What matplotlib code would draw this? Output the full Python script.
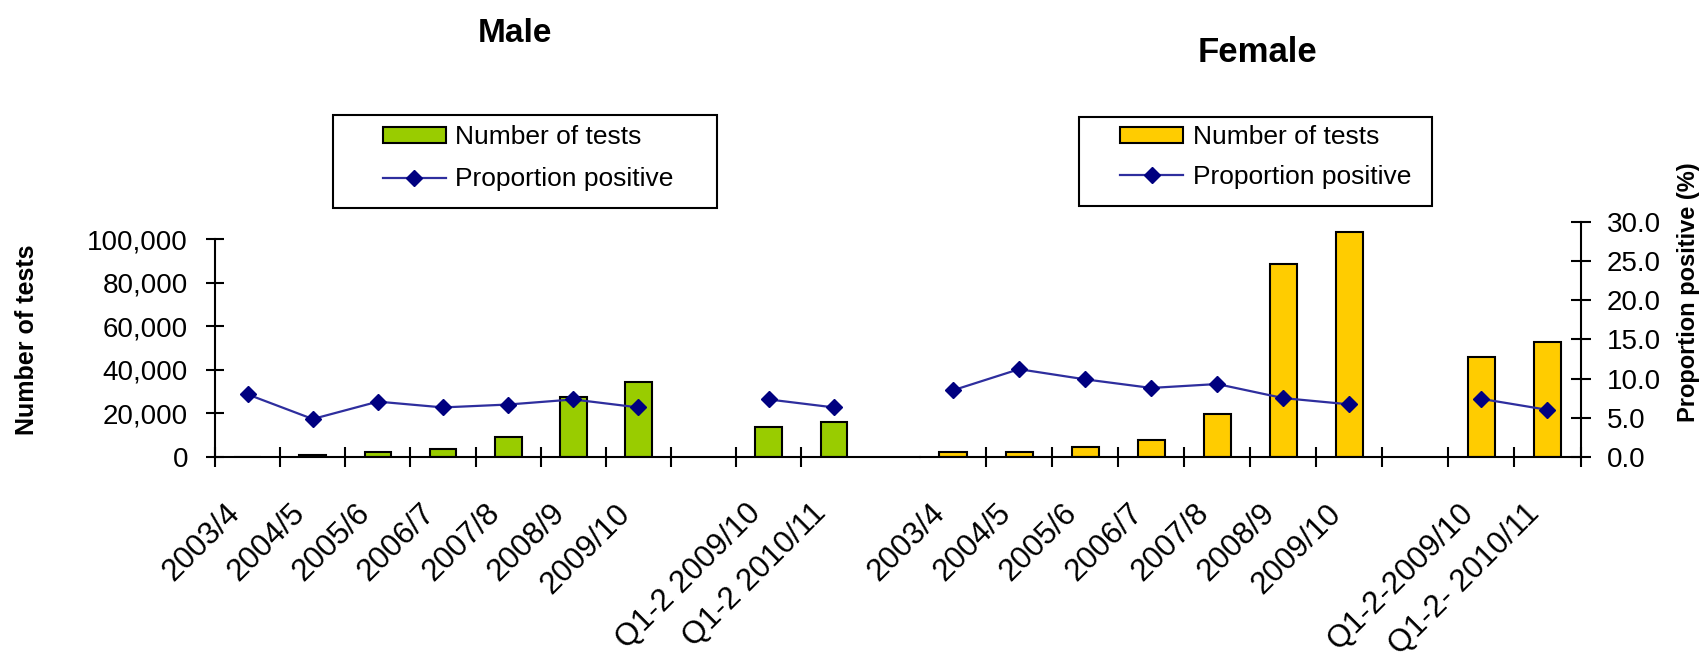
import numpy as np
import matplotlib
matplotlib.use("Agg")
import matplotlib.pyplot as plt
from matplotlib.patches import Rectangle
from matplotlib.lines import Line2D
from matplotlib.transforms import ScaledTranslation

plt.rcParams['font.family'] = ['Liberation Sans', 'DejaVu Sans']

# ---------------- data ----------------
male_categories = ['2003/4', '2004/5', '2005/6', '2006/7', '2007/8', '2008/9', '2009/10',
                   '', 'Q1-2 2009/10', 'Q1-2 2010/11']
male_tests = [0, 1000, 2200, 3400, 8900, 27600, 34200, np.nan, 13500, 15800]
male_positive = [8.6, 5.2, 7.6, 6.8, 7.2, 7.9, 6.8, np.nan, 7.9, 6.8]

female_categories = ['2003/4', '2004/5', '2005/6', '2006/7', '2007/8', '2008/9', '2009/10',
                     '', 'Q1-2-2009/10', 'Q1-2- 2010/11']
female_tests = [2300, 2300, 4300, 7700, 19500, 88500, 103200, np.nan, 46000, 52600]
female_positive = [8.5, 11.2, 9.9, 8.8, 9.3, 7.5, 6.7, np.nan, 7.4, 6.0]

count_ticks = [0, 20000, 40000, 60000, 80000, 100000]
pct_ticks = [0, 5, 10, 15, 20, 25, 30]

# ---------------- style ----------------
W, H = 1704, 659
MALE_COLOR = '#99CC00'
FEMALE_COLOR = '#FFCC00'
LINE_COLOR = '#2E2E9E'
MARKER_COLOR = '#000080'
LW = 1.5
TICK_FS = 20
XTICK_FS = 22.5
LEG_FS = 19

fig = plt.figure(figsize=(W / 100, H / 100), dpi=100)


def fig_rect(x0, y_top, x1, y_bottom):
    return [x0 / W, 1 - y_bottom / H, (x1 - x0) / W, (y_bottom - y_top) / H]


def draw_panel(ax, ax2, cats, tests, pos, color):
    x = np.arange(len(cats))
    t = np.array(tests, dtype=float)
    ok = ~np.isnan(t)
    ax.bar(x[ok], t[ok], width=0.41, color=color, edgecolor='black', linewidth=LW, zorder=2)
    ax2.plot(x, pos, color=LINE_COLOR, linewidth=1.6, marker='D', markersize=8,
             markerfacecolor=MARKER_COLOR, markeredgecolor=MARKER_COLOR, zorder=3)
    ax.set_xticks(x)
    ax.set_xticklabels(cats, rotation=45, ha='right', va='top', fontsize=XTICK_FS)
    ax.tick_params(axis='x', which='major', length=0, pad=30)
    ax.tick_params(axis='x', which='minor', direction='inout', length=14, width=LW)
    for lab in ax.get_xticklabels():
        lab.set_transform(lab.get_transform() + ScaledTranslation(-0.02, 0, fig.dpi_scale_trans))
    ax2.set_ylim(0, 30)
    for s in ['top', 'left', 'bottom']:
        ax2.spines[s].set_visible(False)
    ax.spines['top'].set_visible(False)
    ax.spines['right'].set_visible(False)
    ax.spines['bottom'].set_linewidth(LW)
    ax.patch.set_alpha(0)


# ---- male panel ----
ax_m = fig.add_axes(fig_rect(215, 239.3, 920, 456.7))
ax_m2 = ax_m.twinx()
draw_panel(ax_m, ax_m2, male_categories, male_tests, male_positive, MALE_COLOR)
ax_m.set_xlim(-0.5, 9.5 + (920 - 866.5) / 65.15)
ax_m.set_xticks(np.arange(-0.5, 9.0, 1.0), minor=True)
ax_m.set_ylim(0, 100000)
ax_m.set_yticks(count_ticks)
ax_m.set_yticklabels([f'{v:,}' for v in count_ticks], fontsize=TICK_FS)
ax_m.tick_params(axis='y', direction='inout', length=13, width=LW, pad=13)
ax_m.spines['left'].set_linewidth(LW)
ax_m2.spines['right'].set_visible(False)
ax_m2.set_yticks([])

# ---- female panel ----
ax_f = fig.add_axes(fig_rect(920, 222.3, 1580.5, 456.7))
ax_f2 = ax_f.twinx()
draw_panel(ax_f, ax_f2, female_categories, female_tests, female_positive, FEMALE_COLOR)
ax_f.set_xlim(-0.5, 9.5)
ax_f.set_xticks(np.arange(0.5, 10.0, 1.0), minor=True)
ax_f.set_ylim(0, 100000 * 234.4 / 217.4)
ax_f.spines['left'].set_visible(False)
ax_f.set_yticks([])
ax_f2.set_yticks(pct_ticks)
ax_f2.set_yticklabels([f'{v:.1f}' for v in pct_ticks], fontsize=TICK_FS)
ax_f2.tick_params(axis='y', direction='inout', length=14, width=LW, pad=12)
ax_f2.spines['right'].set_linewidth(LW)

# ---- axis titles ----
fig.text(27 / W, 1 - 340 / H, 'Number of tests', rotation=90, ha='center', va='center',
         fontsize=18, fontweight='bold')
fig.text(1688 / W, 1 - 292 / H, 'Proportion positive (%)', rotation=90, ha='center',
         va='center', fontsize=17, fontweight='bold')

# ---- panel titles ----
fig.text(515 / W, 1 - 34 / H, 'Male', ha='center', va='center', fontsize=24, fontweight='bold')
fig.text(1257 / W, 1 - 52 / H, 'Female', ha='center', va='center', fontsize=25,
         fontweight='bold')


# ---- legends ----
def add_legend(color, x_handle, y_top, spacing, box):
    handles = [Rectangle((0, 0), 1, 1, facecolor=color, edgecolor='black', linewidth=LW),
               Line2D([], [], color=LINE_COLOR, linewidth=1.6, marker='D', markersize=8,
                      markerfacecolor=MARKER_COLOR, markeredgecolor=MARKER_COLOR)]
    fig.legend(handles, ['Number of tests', 'Proportion positive'], loc='upper left',
               bbox_to_anchor=(x_handle / W, 1 - y_top / H), bbox_transform=fig.transFigure,
               frameon=False, borderpad=0, borderaxespad=0, handlelength=2.4,
               handleheight=0.55, handletextpad=0.35, labelspacing=spacing,
               fontsize=LEG_FS, numpoints=1)
    x0, y0, x1, y1 = box
    fig.add_artist(Rectangle((x0 / W, 1 - y1 / H), (x1 - x0) / W, (y1 - y0) / H,
                             transform=fig.transFigure, fill=False, edgecolor='black',
                             linewidth=LW))


add_legend(MALE_COLOR, 382.7, 125, 0.7, (332.7, 115, 716.7, 208))
add_legend(FEMALE_COLOR, 1120, 125, 0.6, (1079, 117, 1432, 206))

fig.savefig('out.png', dpi=100)
